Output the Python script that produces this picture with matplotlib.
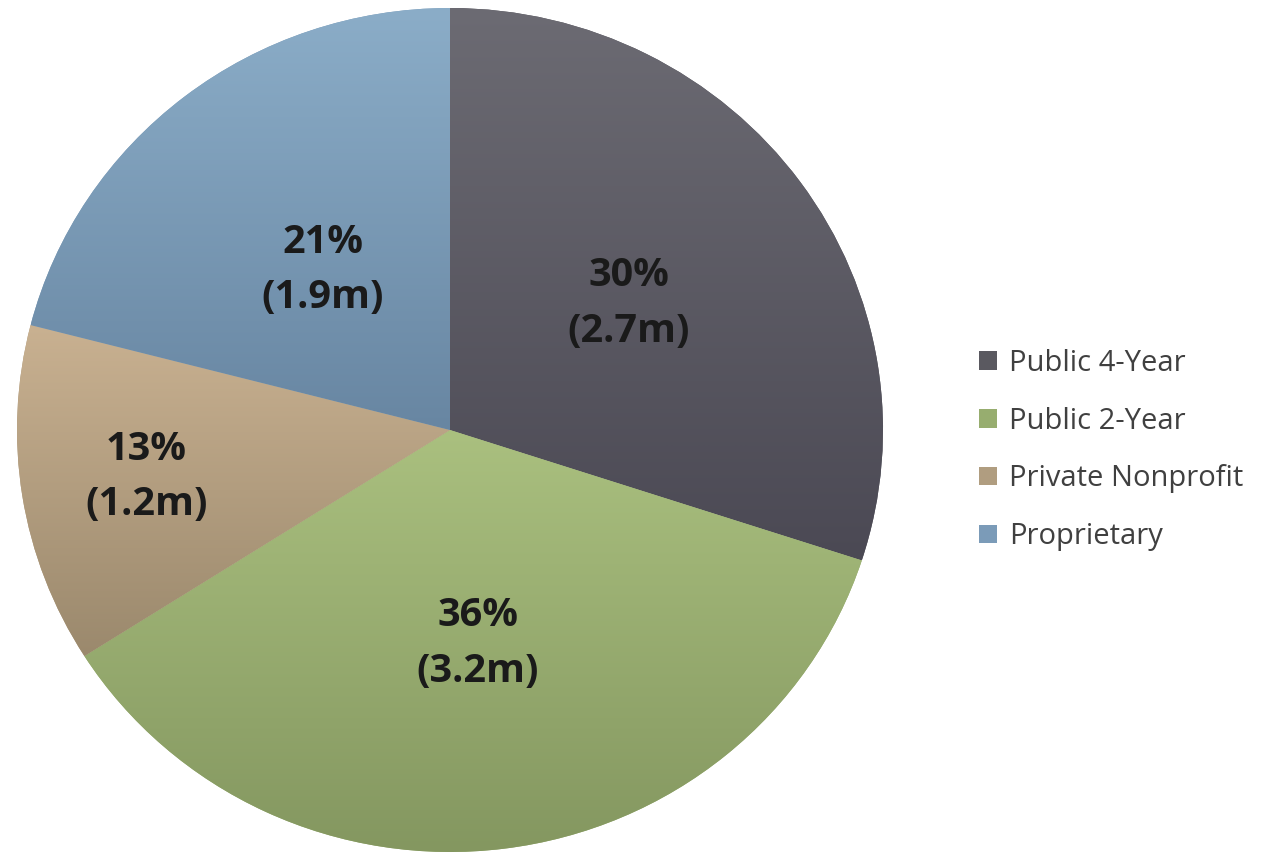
import numpy as np
import matplotlib
matplotlib.use("Agg")
import matplotlib.pyplot as plt
from matplotlib.patches import Patch

categories = ["Public 4-Year", "Public 2-Year", "Private Nonprofit", "Proprietary"]
shares = [30, 36, 13, 21]
students_m = [2.7, 3.2, 1.2, 1.9]

# top / bottom colours of the vertical shading on each slice
top_colors = ["#6c6b73", "#aac07f", "#c9b191", "#8badc8"]
bottom_colors = ["#4b4954", "#849760", "#9b896d", "#6886a2"]
legend_colors = ["#5a5960", "#97ad6f", "#b09d80", "#7b9bb8"]

label_dist = [0.51, 0.51, 0.71, 0.48]

plt.rcParams["font.family"] = ["Open Sans", "DejaVu Sans"]

fig = plt.figure(figsize=(12.77, 8.56), dpi=100)
W, H = 1277, 856
cx, cy, rx, ry = 450, 430, 433, 422
ax = fig.add_axes([(cx - rx) / W, (H - cy - ry) / H, 2 * rx / W, 2 * ry / H])

wedges, _ = ax.pie(shares, colors=legend_colors, startangle=90, counterclock=False,
                   radius=1, wedgeprops=dict(linewidth=0))
ax.set_xlim(-1, 1)
ax.set_ylim(-1, 1)
ax.set_aspect("auto")
ax.axis("off")

for w, c0, c1 in zip(wedges, top_colors, bottom_colors):
    ext = w.get_path().get_extents()
    c0 = np.array(matplotlib.colors.to_rgb(c0))
    c1 = np.array(matplotlib.colors.to_rgb(c1))
    t = np.linspace(0, 1, 256)[:, None]
    grad = (c0 * (1 - t) + c1 * t)[:, None, :]
    im = ax.imshow(grad, extent=[ext.x0, ext.x1, ext.y0, ext.y1], origin="upper",
                   aspect="auto", interpolation="bilinear", zorder=2)
    im.set_clip_path(w)

for w, s, m, d in zip(wedges, shares, students_m, label_dist):
    mid = np.deg2rad((w.theta1 + w.theta2) / 2)
    ax.text(d * np.cos(mid), d * np.sin(mid), f"{s}%\n({m}m)", ha="center", va="center",
            fontsize=28.5, fontweight="bold", color="#1a1a1a", linespacing=1.55, zorder=3)

handles = [Patch(facecolor=c, edgecolor="none") for c in legend_colors]
fig.legend(handles, categories, loc="center left", bbox_to_anchor=(979 / W, 1 - 450 / H),
           frameon=False, fontsize=21, labelcolor="#404040", handlelength=0.6,
           handleheight=0.6, handletextpad=0.42, labelspacing=0.99, borderpad=0,
           borderaxespad=0)

fig.savefig("out.png", dpi=100)
